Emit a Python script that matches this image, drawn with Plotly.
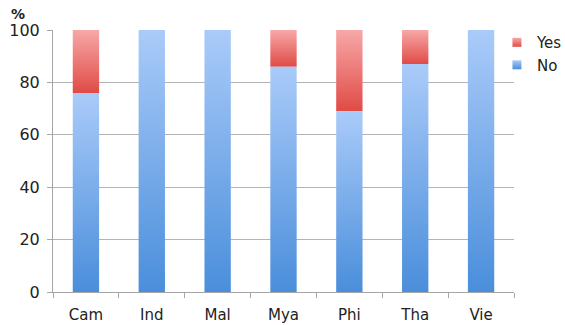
import plotly.graph_objects as go

# Share of respondents per country (percent)
countries = ["Cam", "Ind", "Mal", "Mya", "Phi", "Tha", "Vie"]
no_pct = [76, 100, 100, 86, 69, 87, 100]
yes_pct = [24, 0, 0, 14, 31, 13, 0]

y_ticks = [0, 20, 40, 60, 80, 100]

BAR_HALF = 0.2  # half of the bar width in category units

blue_scale = [[0, "#4a8edb"], [1, "#aacbf9"]]
red_scale = [[0, "#e04b46"], [1, "#f7a8a8"]]

fig = go.Figure()


def add_segment(i, base, top, name, scale):
    """One stacked segment drawn as a filled polygon with a vertical gradient."""
    x0, x1 = i - BAR_HALF, i + BAR_HALF
    fig.add_trace(go.Scatter(
        x=[x0, x1, x1, x0, x0],
        y=[base, base, top, top, base],
        mode="none",
        fill="toself",
        fillgradient=dict(type="vertical", colorscale=scale, start=base, stop=top),
        name=name,
        legendgroup=name,
        showlegend=False,
        hoverinfo="skip",
    ))


for i, (n, y) in enumerate(zip(no_pct, yes_pct)):
    if y > 0:
        add_segment(i, n, n + y, "Yes", red_scale)
for i, n in enumerate(no_pct):
    add_segment(i, 0, n, "No", blue_scale)

# Legend keys: small gradient squares
for name, scale in (("Yes", red_scale), ("No", blue_scale)):
    fig.add_trace(go.Scatter(
        x=[None], y=[None], mode="markers", name=name, legendgroup=name,
        marker=dict(symbol="square", size=9, color=scale[1][1],
                    gradient=dict(type="vertical", color=scale[0][1]),
                    line=dict(width=0)),
        showlegend=True,
    ))

font_family = "DejaVu Sans, Verdana, sans-serif"

fig.update_layout(
    width=565,
    height=325,
    margin=dict(l=53, r=51, t=30, b=33, autoexpand=False),
    paper_bgcolor="white",
    plot_bgcolor="white",
    font=dict(family=font_family, size=15, color="#222222"),
    showlegend=True,
    legend=dict(
        x=0.963, y=1.015, xanchor="left", yanchor="top",
        traceorder="normal",
        font=dict(size=15, color="#222222"),
        itemwidth=30,
        tracegroupgap=0,
        bgcolor="rgba(0,0,0,0)",
    ),
    xaxis=dict(
        range=[-0.5, len(countries) - 0.5],
        tickvals=list(range(len(countries))),
        ticktext=countries,
        ticks="",
        ticklabelstandoff=9,
        showgrid=False,
        zeroline=False,
        showline=True,
        linecolor="#a6a6a6",
        linewidth=1,
        tickfont=dict(size=15),
        minor=dict(
            tick0=-0.5, dtick=1, ticks="outside", ticklen=5,
            tickcolor="#a6a6a6", showgrid=False,
        ),
    ),
    yaxis=dict(
        range=[0, 100],
        tickvals=y_ticks,
        ticks="outside",
        ticklen=5,
        tickcolor="#a6a6a6",
        ticklabelstandoff=4,
        showgrid=True,
        gridcolor="#b4b4b4",
        gridwidth=1,
        zeroline=False,
        showline=True,
        linecolor="#a6a6a6",
        linewidth=1,
        tickfont=dict(size=16),
    ),
    annotations=[dict(
        text="<b>%</b>", x=0, xref="paper", xanchor="right", xshift=-26,
        y=1, yref="paper", yanchor="bottom", yshift=6,
        showarrow=False, font=dict(size=14, color="#222222"),
    )],
)

fig.write_html("out.html")
